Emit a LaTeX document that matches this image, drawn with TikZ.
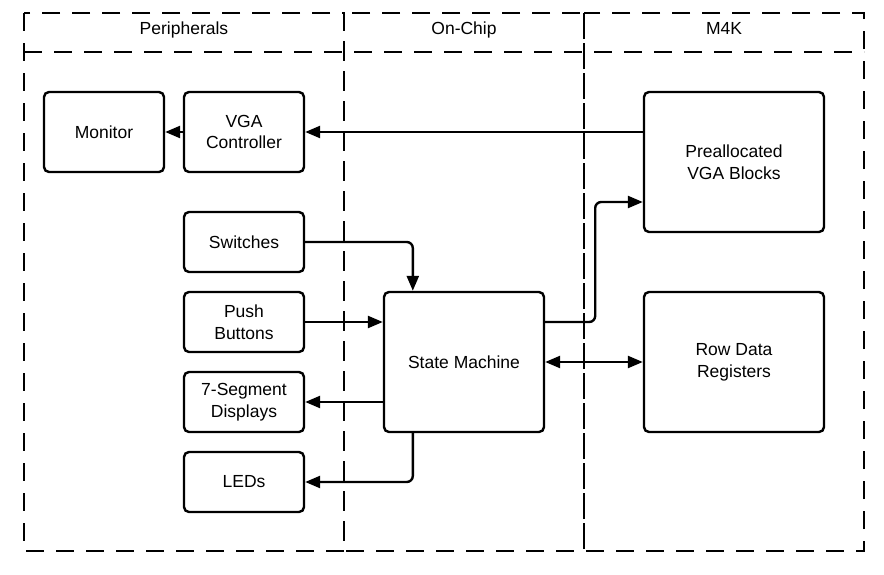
\documentclass[tikz,border=0pt]{standalone}
\usepackage{fontspec}
\setmainfont{Liberation Sans}
\usepackage{tikz}
\usetikzlibrary{arrows.meta, positioning}

\begin{document}
\begin{tikzpicture}[x=0.5pt, y=-0.5pt, node distance=40pt, >={Triangle[length=7.5pt, width=6pt]}, every node/.style={font=\fontsize{8.75}{10.8}\selectfont}]
    \tikzstyle{blk} = [rectangle, draw, line width=1.2pt, rounded corners=2.5pt, align=center, minimum width=60pt, minimum height=40pt, inner sep=0pt]
    \tikzstyle{io} = [blk, minimum height=30pt]
    \tikzstyle{mem} = [blk, minimum width=90pt, minimum height=70pt]
    \tikzstyle{lane} = [draw, line width=1.4pt, dash pattern=on 9pt off 6pt]
    \tikzstyle{link} = [draw, line width=1.2pt, rounded corners=3pt, ->]

    \useasboundingbox (0,0) rectangle (884,574);
    \draw [lane] (24,13) rectangle (344,551);
    \draw [lane] (344,13) rectangle (584,551);
    \draw [lane] (584,13) rectangle (864,551);
    \draw [lane] (24,52) -- (864,52);

    \node [anchor=base] (perph) at (184,34.5) {Peripherals};
    \node [anchor=base] (chip) at (464,34.5) {On-Chip};
    \node [anchor=base] (m4k) at (724,34.5) {M4K};

    \node [blk] (mon) at (104,132) {Monitor};
    \node [blk, right of=mon, node distance=70pt] (vga) {VGA\\Controller};
    \node [io, below of=vga, node distance=55pt] (sw) {Switches};
    \node [io, below of=sw] (pb) {Push\\Buttons};
    \node [io, below of=pb] (seg) {7-Segment\\Displays};
    \node [io, below of=seg] (led) {LEDs};
    \node [blk, minimum width=80pt, minimum height=70pt, right of=pb, node distance=110pt, yshift=-20pt] (sm) {State Machine};
    \node [mem, right of=sm, node distance=135pt] (row) {Row Data\\Registers};
    \node [mem, above of=row, node distance=100pt] (pre) {Preallocated\\VGA Blocks};

    \draw [link] (pre.west |- vga.east) -- (vga.east);
    \draw [link] (vga) -- (mon);
    \draw [link] (sw.east) -| ([xshift=15pt]sm.north west);
    \draw [link] (pb.east) -- (pb.east -| sm.west);
    \draw [link] (sm.west |- seg.east) -- (seg.east);
    \draw [link] ([xshift=15pt]sm.south west) |- (led.east);
    \draw [link] ([yshift=20pt]sm.east) -- ++(25pt,0) |- ([yshift=-20pt]pre.west);
    \draw [link, <->] (sm) -- (row);
\end{tikzpicture}
\end{document}
